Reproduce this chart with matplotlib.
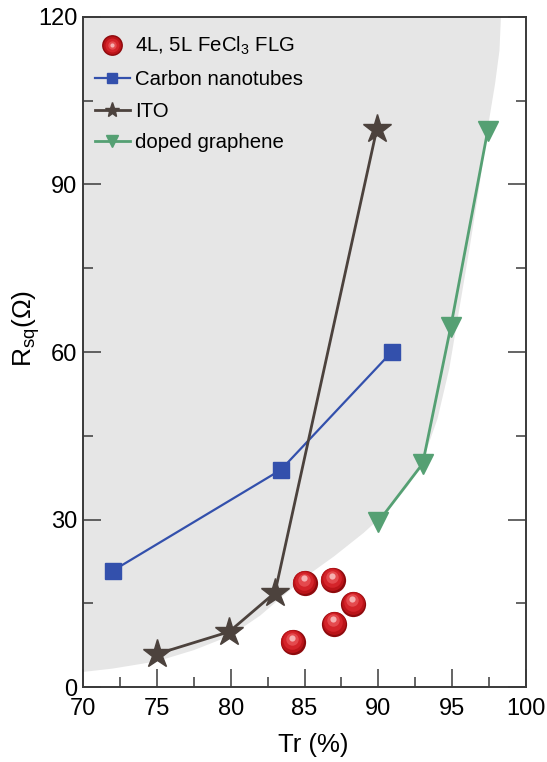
import matplotlib
matplotlib.use("Agg")
import matplotlib.pyplot as plt
import matplotlib.transforms as mtransforms
from matplotlib.lines import Line2D
from matplotlib.legend_handler import HandlerTuple
from matplotlib.ticker import MultipleLocator

plt.rcParams['font.family'] = ['Liberation Sans', 'DejaVu Sans']
plt.rcParams['mathtext.default'] = 'regular'

# ==== DATA ====
# FeCl3 few-layer graphene (spheres)
flg_tr = [84.2, 85.0, 86.9, 87.0, 88.3]
flg_rs = [8.0, 18.6, 19.1, 11.3, 14.9]

# Carbon nanotubes
cnt_tr = [72.0, 83.4, 90.9]
cnt_rs = [20.8, 38.9, 60.0]

# ITO
ito_tr = [75.0, 79.9, 83.0, 89.9]
ito_rs = [5.9, 9.9, 16.9, 100.0]

# doped graphene
dg_tr = [90.0, 93.0, 94.9, 97.4]
dg_rs = [29.6, 40.0, 64.5, 99.6]

# outline of the grey shaded region
region_tr = [70.0, 72.0, 75.0, 77.5, 80.0, 82.0, 83.5, 85.0, 87.0, 89.0,
             90.5, 92.0, 93.0, 94.0, 94.8, 95.5, 96.2, 96.8, 97.4, 97.9,
             98.2, 98.3]
region_rs = [2.7, 3.3, 4.6, 6.6, 9.2, 12.8, 16.2, 19.6, 23.4, 27.6,
             31.2, 36.0, 40.5, 48.0, 57.0, 68.0, 79.0, 89.0, 100.0, 108.0,
             114.0, 120.0]

labels = ["4L, 5L FeCl$_3$ FLG", "Carbon nanotubes", "ITO", "doped graphene"]

# ==== COLOURS ====
c_blue = '#3350ac'
c_ito = '#4c423d'
c_green = '#55a073'
c_grey = '#e6e6e6'
c_axis = '#3a3a3a'

# ==== PLOT ====
fig = plt.figure(figsize=(5.47, 7.62), dpi=100)
ax = fig.add_axes([0.1517, 0.0984, 0.810, 0.8793])

ax.fill(region_tr + [70.0], region_rs + [120.0], color=c_grey, lw=0, zorder=0)

ax.plot(cnt_tr, cnt_rs, color=c_blue, lw=1.6, marker='s', ms=12,
        mfc=c_blue, mec=c_blue, zorder=3)
ax.plot(ito_tr, ito_rs, color=c_ito, lw=2.0, marker='*', ms=21,
        mfc=c_ito, mec=c_ito, zorder=3)
ax.plot(dg_tr, dg_rs, color=c_green, lw=2.0, marker='v', ms=15,
        mfc=c_green, mec=c_green, zorder=3)

# shaded spheres: stacked circles, highlight shifted up
sphere_layers = [
    (330, '#8e0a0d', 0.0, 0.0),
    (270, '#bb1419', -0.2, 0.7),
    (180, '#d4242a', -0.4, 1.5),
    (80, '#e44a4e', -0.6, 2.6),
    (20, '#f6b0b1', -0.7, 3.4),
]
for s, col, dx, dy in sphere_layers:
    tr = ax.transData + mtransforms.ScaledTranslation(dx / 72, dy / 72,
                                                      fig.dpi_scale_trans)
    ax.scatter(flg_tr, flg_rs, s=s, c=col, lw=0, transform=tr, zorder=4)

# ==== AXES ====
ax.set_xlim(70, 100)
ax.set_ylim(0, 120)
ax.xaxis.set_major_locator(MultipleLocator(5))
ax.xaxis.set_minor_locator(MultipleLocator(2.5))
ax.yaxis.set_major_locator(MultipleLocator(30))
ax.yaxis.set_minor_locator(MultipleLocator(15))
ax.tick_params(which='both', direction='in', top=False, right=True,
               color=c_axis, width=1.1, labelsize=17)
ax.tick_params(which='major', length=13)
ax.tick_params(which='minor', length=7)
ax.tick_params(axis='x', pad=8)
ax.tick_params(axis='y', pad=4)
for sp in ax.spines.values():
    sp.set_color(c_axis)
    sp.set_linewidth(1.4)

ax.set_xlabel("Tr (%)", fontsize=18.5)
ax.set_ylabel("R$_{sq}$(\u03a9)", fontsize=19)
ax.xaxis.set_label_coords(0.52, -0.068)
ax.yaxis.set_label_coords(-0.093, 0.535)

# ==== LEGEND ====
sphere_handle = tuple(
    Line2D([], [], ls='none', marker='o', ms=m, mfc=col, mec='none')
    for m, col in [(15, '#8e0a0d'), (13, '#bb1419'), (10, '#d4242a'),
                   (6, '#e44a4e'), (3, '#f6b0b1')]
)
handles = [
    sphere_handle,
    Line2D([], [], color=c_blue, lw=1.6, marker='s', ms=7, mfc=c_blue, mec=c_blue),
    Line2D([], [], color=c_ito, lw=2.0, marker='*', ms=11, mfc=c_ito, mec=c_ito),
    Line2D([], [], color=c_green, lw=2.0, marker='v', ms=8, mfc=c_green, mec=c_green),
]
ax.legend(handles, labels, loc='upper left', bbox_to_anchor=(0.027, 0.973),
          frameon=False, fontsize=14.7, handlelength=1.7, handletextpad=0.25,
          labelspacing=0.62, borderpad=0, borderaxespad=0,
          handler_map={tuple: HandlerTuple(ndivide=1)})

fig.savefig("out.png", dpi=100)
